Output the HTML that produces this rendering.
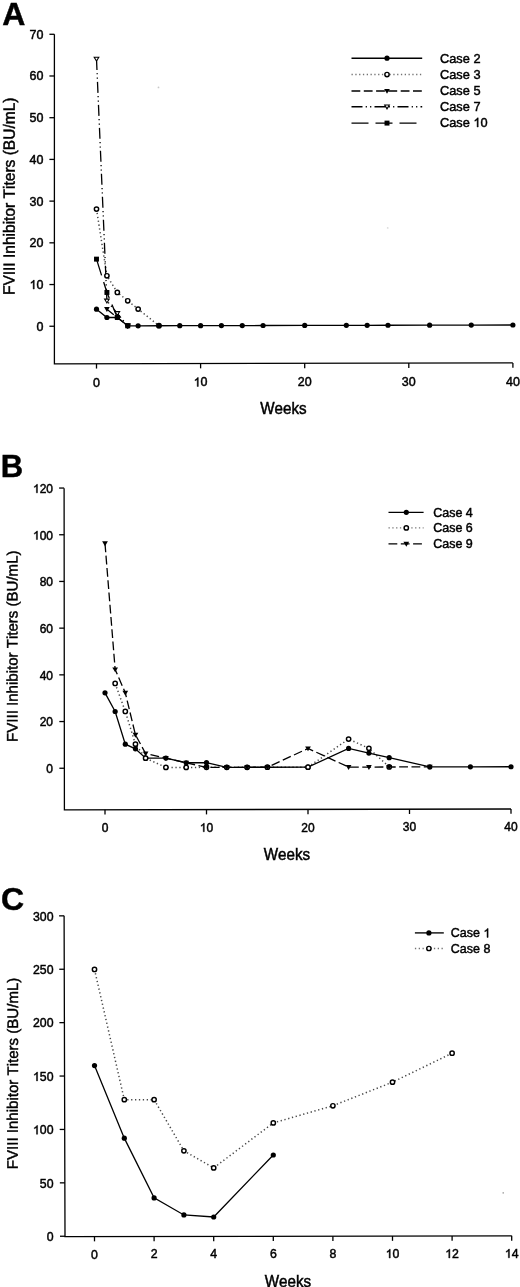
<!DOCTYPE html>
<html><head><meta charset="utf-8"><title>FVIII inhibitor titers</title>
<style>
html,body{margin:0;padding:0;background:#fff;}
body{width:520px;height:1287px;overflow:hidden;}
svg{display:block;filter:blur(0.42px);}
text{font-family:"Liberation Sans", sans-serif;fill:#000;stroke:#000;stroke-width:0.45px;font-kerning:none;}
tspan.h{fill:none;stroke:none;}
</style></head>
<body>
<svg width="520" height="1287" viewBox="0 0 520 1287">
<rect width="520" height="1287" fill="#fff"/>
<path d="M54.4 34.2L54.4 363.85L512.85 362.9" fill="none" stroke="#000" stroke-width="1.3" stroke-linejoin="miter"/>
<path d="M49.4 326.25H54.4" stroke="#000" stroke-width="1.3"/>
<g transform="translate(36.55 330.75) scale(1 1.04)"><text x="0" y="0" font-size="12.5">0</text></g>
<path d="M49.4 284.54H54.4" stroke="#000" stroke-width="1.3"/>
<g transform="translate(29.6 289.04) scale(1 1.04)"><text x="0" y="0" font-size="12.5"><tspan class="h">1</tspan>0</text><path d="M4.66 0L3.56 0L3.56 -6.7Q3.16 -6.34 2.51 -5.97Q1.86 -5.61 1.35 -5.43L1.35 -6.45Q2.27 -6.86 2.96 -7.46Q3.65 -8.04 3.94 -8.6L4.66 -8.6Z" fill="#000" stroke="#000" stroke-width="0.45"/></g>
<path d="M49.4 242.83H54.4" stroke="#000" stroke-width="1.3"/>
<g transform="translate(29.6 247.33) scale(1 1.04)"><text x="0" y="0" font-size="12.5">20</text></g>
<path d="M49.4 201.12H54.4" stroke="#000" stroke-width="1.3"/>
<g transform="translate(29.6 205.62) scale(1 1.04)"><text x="0" y="0" font-size="12.5">30</text></g>
<path d="M49.4 159.41H54.4" stroke="#000" stroke-width="1.3"/>
<g transform="translate(29.6 163.91) scale(1 1.04)"><text x="0" y="0" font-size="12.5">40</text></g>
<path d="M49.4 117.7H54.4" stroke="#000" stroke-width="1.3"/>
<g transform="translate(29.6 122.2) scale(1 1.04)"><text x="0" y="0" font-size="12.5">50</text></g>
<path d="M49.4 75.99H54.4" stroke="#000" stroke-width="1.3"/>
<g transform="translate(29.6 80.49) scale(1 1.04)"><text x="0" y="0" font-size="12.5">60</text></g>
<path d="M49.4 34.28H54.4" stroke="#000" stroke-width="1.3"/>
<g transform="translate(29.6 38.78) scale(1 1.04)"><text x="0" y="0" font-size="12.5">70</text></g>
<path d="M96.5 363.76V368.56" stroke="#000" stroke-width="1.3"/>
<g transform="translate(93.02 386.69) scale(1 1.04)"><text x="0" y="0" font-size="12.5">0</text></g>
<path d="M200.6 363.55V368.35" stroke="#000" stroke-width="1.3"/>
<g transform="translate(193.65 386.47) scale(1 1.04)"><text x="0" y="0" font-size="12.5"><tspan class="h">1</tspan>0</text><path d="M4.66 0L3.56 0L3.56 -6.7Q3.16 -6.34 2.51 -5.97Q1.86 -5.61 1.35 -5.43L1.35 -6.45Q2.27 -6.86 2.96 -7.46Q3.65 -8.04 3.94 -8.6L4.66 -8.6Z" fill="#000" stroke="#000" stroke-width="0.45"/></g>
<path d="M304.7 363.33V368.13" stroke="#000" stroke-width="1.3"/>
<g transform="translate(297.75 386.26) scale(1 1.04)"><text x="0" y="0" font-size="12.5">20</text></g>
<path d="M408.8 363.12V367.92" stroke="#000" stroke-width="1.3"/>
<g transform="translate(401.85 386.04) scale(1 1.04)"><text x="0" y="0" font-size="12.5">30</text></g>
<path d="M512.9 362.9V367.7" stroke="#000" stroke-width="1.3"/>
<g transform="translate(505.95 385.82) scale(1 1.04)"><text x="0" y="0" font-size="12.5">40</text></g>
<g transform="translate(260.17 414.3) scale(1 1.04)"><text x="0" y="0" font-size="15.2">Weeks</text></g>
<text transform="translate(14.7 196.3) rotate(-89.95)" text-anchor="middle" font-size="16.3" textLength="197.6" lengthAdjust="spacingAndGlyphs">FVIII Inhibitor Titers (BU/mL)</text>
<text x="2.2" y="25.3" font-size="32" font-weight="bold">A</text>
<polyline points="96.5,209.07 106.91,275.79 117.32,292.45 127.73,300.77 138.14,309.09 158.96,325.73" fill="none" stroke="#000" stroke-width="1.3" stroke-dasharray="1.3 2.6" stroke-opacity="0.72" style="stroke-width:1.5px"/>
<polyline points="96.5,58.92 106.91,300.82 117.32,313.31 127.73,325.8" fill="none" stroke="#000" stroke-width="1.3" stroke-dasharray="11 3.2 1.2 3.2 1.2 3.2"/>
<polyline points="96.5,259.13 106.91,292.47 117.32,317.48 127.73,325.8" fill="none" stroke="#000" stroke-width="1.3" stroke-dasharray="17 7"/>
<polyline points="106.91,309.16 117.32,317.48 127.73,325.8" fill="none" stroke="#000" stroke-width="1.3" stroke-dasharray="8.8 3.5"/>
<polyline points="96.5,309.18 106.91,317.5 117.32,317.48 127.73,325.8 138.14,325.78 158.96,325.73 179.78,325.69 200.6,325.65 221.42,325.6 242.24,325.56 263.06,325.52 304.7,325.43 346.34,325.35 367.16,325.3 387.98,325.26 429.62,325.17 471.26,325.09 512.9,325" fill="none" stroke="#000" stroke-width="1.3" />
<circle cx="96.5" cy="209.07" r="2.15" fill="#fff" stroke="#000" stroke-width="1.45"/>
<circle cx="106.91" cy="275.79" r="2.15" fill="#fff" stroke="#000" stroke-width="1.45"/>
<circle cx="117.32" cy="292.45" r="2.15" fill="#fff" stroke="#000" stroke-width="1.45"/>
<circle cx="127.73" cy="300.77" r="2.15" fill="#fff" stroke="#000" stroke-width="1.45"/>
<circle cx="138.14" cy="309.09" r="2.15" fill="#fff" stroke="#000" stroke-width="1.45"/>
<circle cx="158.96" cy="325.73" r="2.15" fill="#fff" stroke="#000" stroke-width="1.45"/>
<polygon points="94.19,57.21 98.81,57.21 96.5,61.05" fill="#fff" stroke="#000" stroke-width="1.1" stroke-linejoin="miter"/>
<polygon points="104.6,299.1 109.22,299.1 106.91,302.94" fill="#fff" stroke="#000" stroke-width="1.1" stroke-linejoin="miter"/>
<polygon points="115.01,311.59 119.63,311.59 117.32,315.43" fill="#fff" stroke="#000" stroke-width="1.1" stroke-linejoin="miter"/>
<polygon points="125.42,324.09 130.04,324.09 127.73,327.93" fill="#fff" stroke="#000" stroke-width="1.1" stroke-linejoin="miter"/>
<rect x="94.03" y="256.66" width="4.94" height="4.94" fill="#000"/>
<rect x="104.44" y="290" width="4.94" height="4.94" fill="#000"/>
<rect x="114.85" y="315.01" width="4.94" height="4.94" fill="#000"/>
<rect x="125.26" y="323.33" width="4.94" height="4.94" fill="#000"/>
<polygon points="104.05,307.08 109.77,307.08 106.91,312.02" fill="#000"/>
<polygon points="114.46,315.4 120.18,315.4 117.32,320.34" fill="#000"/>
<polygon points="124.87,323.72 130.59,323.72 127.73,328.66" fill="#000"/>
<circle cx="96.5" cy="309.18" r="2.6" fill="#000"/>
<circle cx="106.91" cy="317.5" r="2.6" fill="#000"/>
<circle cx="117.32" cy="317.48" r="2.6" fill="#000"/>
<circle cx="127.73" cy="325.8" r="2.6" fill="#000"/>
<circle cx="138.14" cy="325.78" r="2.6" fill="#000"/>
<circle cx="158.96" cy="325.73" r="2.6" fill="#000"/>
<circle cx="179.78" cy="325.69" r="2.6" fill="#000"/>
<circle cx="200.6" cy="325.65" r="2.6" fill="#000"/>
<circle cx="221.42" cy="325.6" r="2.6" fill="#000"/>
<circle cx="242.24" cy="325.56" r="2.6" fill="#000"/>
<circle cx="263.06" cy="325.52" r="2.6" fill="#000"/>
<circle cx="304.7" cy="325.43" r="2.6" fill="#000"/>
<circle cx="346.34" cy="325.35" r="2.6" fill="#000"/>
<circle cx="367.16" cy="325.3" r="2.6" fill="#000"/>
<circle cx="387.98" cy="325.26" r="2.6" fill="#000"/>
<circle cx="429.62" cy="325.17" r="2.6" fill="#000"/>
<circle cx="471.26" cy="325.09" r="2.6" fill="#000"/>
<circle cx="512.9" cy="325" r="2.6" fill="#000"/>
<path d="M351.5 58.2H422.2" stroke="#000" stroke-width="1.35" />
<circle cx="387" cy="58.2" r="2.6" fill="#000"/>
<g transform="translate(440 62.6) scale(1 1.04)"><text x="0" y="0" font-size="12.8">Case 2</text></g>
<path d="M351.5 74.5H422.2" stroke="#000" stroke-width="1.35" stroke-dasharray="1.3 2.5" stroke-opacity="0.55" style="stroke-width:1.3px"/>
<circle cx="387" cy="74.5" r="2.15" fill="#fff" stroke="#000" stroke-width="1.45"/>
<g transform="translate(440 78.6) scale(1 1.04)"><text x="0" y="0" font-size="12.8">Case 3</text></g>
<path d="M351.5 91H422.2" stroke="#000" stroke-width="1.35" stroke-dasharray="8.8 3.5"/>
<polygon points="384.14,88.93 389.86,88.93 387,93.87" fill="#000"/>
<g transform="translate(440 95.2) scale(1 1.04)"><text x="0" y="0" font-size="12.8">Case 5</text></g>
<path d="M351.5 106.7H422.2" stroke="#000" stroke-width="1.35" stroke-dasharray="11 3.2 1.2 3.2 1.2 3.2"/>
<polygon points="384.69,104.99 389.31,104.99 387,108.83" fill="#fff" stroke="#000" stroke-width="1.1" stroke-linejoin="miter"/>
<g transform="translate(440 110.9) scale(1 1.04)"><text x="0" y="0" font-size="12.8">Case 7</text></g>
<path d="M351.5 123.1H422.2" stroke="#000" stroke-width="1.35" stroke-dasharray="17 7"/>
<rect x="384.53" y="120.63" width="4.94" height="4.94" fill="#000"/>
<g transform="translate(440 127) scale(1 1.04)"><text x="0" y="0" font-size="12.8">Case <tspan class="h">1</tspan>0</text><path d="M38.21 0L37.09 0L37.09 -6.86Q36.68 -6.49 36.01 -6.12Q35.34 -5.74 34.82 -5.56L34.82 -6.6Q35.77 -7.03 36.47 -7.64Q37.18 -8.23 37.47 -8.81L38.21 -8.81Z" fill="#000" stroke="#000" stroke-width="0.45"/></g>
<path d="M64.1 488.25L64.4 809.9L511 809" fill="none" stroke="#000" stroke-width="1.3" stroke-linejoin="miter"/>
<path d="M59.36 768.25H64.36" stroke="#000" stroke-width="1.3"/>
<g transform="translate(46.33 773.07) scale(1 1.04)"><text x="0" y="0" font-size="12">0</text></g>
<path d="M59.32 721.55H64.32" stroke="#000" stroke-width="1.3"/>
<g transform="translate(39.65 726.37) scale(1 1.04)"><text x="0" y="0" font-size="12">20</text></g>
<path d="M59.27 674.85H64.27" stroke="#000" stroke-width="1.3"/>
<g transform="translate(39.65 679.67) scale(1 1.04)"><text x="0" y="0" font-size="12">40</text></g>
<path d="M59.23 628.15H64.23" stroke="#000" stroke-width="1.3"/>
<g transform="translate(39.65 632.97) scale(1 1.04)"><text x="0" y="0" font-size="12">60</text></g>
<path d="M59.19 581.45H64.19" stroke="#000" stroke-width="1.3"/>
<g transform="translate(39.65 586.27) scale(1 1.04)"><text x="0" y="0" font-size="12">80</text></g>
<path d="M59.14 534.75H64.14" stroke="#000" stroke-width="1.3"/>
<g transform="translate(32.98 539.57) scale(1 1.04)"><text x="0" y="0" font-size="12"><tspan class="h">1</tspan>00</text><path d="M4.48 0L3.42 0L3.42 -6.43Q3.04 -6.08 2.41 -5.73Q1.79 -5.38 1.3 -5.21L1.3 -6.19Q2.18 -6.59 2.84 -7.16Q3.5 -7.72 3.78 -8.26L4.48 -8.26Z" fill="#000" stroke="#000" stroke-width="0.45"/></g>
<path d="M59.1 488.05H64.1" stroke="#000" stroke-width="1.3"/>
<g transform="translate(32.98 492.87) scale(1 1.04)"><text x="0" y="0" font-size="12"><tspan class="h">1</tspan>20</text><path d="M4.48 0L3.42 0L3.42 -6.43Q3.04 -6.08 2.41 -5.73Q1.79 -5.38 1.3 -5.21L1.3 -6.19Q2.18 -6.59 2.84 -7.16Q3.5 -7.72 3.78 -8.26L4.48 -8.26Z" fill="#000" stroke="#000" stroke-width="0.45"/></g>
<path d="M105 809.82V814.62" stroke="#000" stroke-width="1.3"/>
<g transform="translate(101.66 831.97) scale(1 1.04)"><text x="0" y="0" font-size="12">0</text></g>
<path d="M206.5 809.61V814.41" stroke="#000" stroke-width="1.3"/>
<g transform="translate(199.83 831.76) scale(1 1.04)"><text x="0" y="0" font-size="12"><tspan class="h">1</tspan>0</text><path d="M4.48 0L3.42 0L3.42 -6.43Q3.04 -6.08 2.41 -5.73Q1.79 -5.38 1.3 -5.21L1.3 -6.19Q2.18 -6.59 2.84 -7.16Q3.5 -7.72 3.78 -8.26L4.48 -8.26Z" fill="#000" stroke="#000" stroke-width="0.45"/></g>
<path d="M308 809.41V814.21" stroke="#000" stroke-width="1.3"/>
<g transform="translate(301.33 831.56) scale(1 1.04)"><text x="0" y="0" font-size="12">20</text></g>
<path d="M409.5 809.2V814" stroke="#000" stroke-width="1.3"/>
<g transform="translate(402.83 831.35) scale(1 1.04)"><text x="0" y="0" font-size="12">30</text></g>
<path d="M511 809V813.8" stroke="#000" stroke-width="1.3"/>
<g transform="translate(504.33 831.15) scale(1 1.04)"><text x="0" y="0" font-size="12">40</text></g>
<g transform="translate(263.77 859.7) scale(1 1.04)"><text x="0" y="0" font-size="15.2">Weeks</text></g>
<text transform="translate(17.55 646.2) rotate(-89.95)" text-anchor="middle" font-size="15.2" textLength="191.5" lengthAdjust="spacingAndGlyphs">FVIII Inhibitor Titers (BU/mL)</text>
<text x="0.8" y="477.4" font-size="31" font-weight="bold">B</text>
<polyline points="105,692.85 115.15,711.51 125.3,744.18 135.45,748.83 145.6,758.15 165.9,758.1 186.2,762.73 206.5,762.69 226.8,767.32 247.1,767.28 267.4,767.24 308,767.16 348.6,748.4 368.9,753.03 389.2,757.65 429.8,766.91 470.4,766.83 511,766.75" fill="none" stroke="#000" stroke-width="1.3" />
<polyline points="115.15,683.49 125.3,711.49 135.45,744.16 145.6,758.15 165.9,767.44 186.2,767.4 206.5,767.36 226.8,767.32 247.1,767.28 267.4,767.24 308,767.16 348.6,739.06 368.9,748.36 389.2,766.99" fill="none" stroke="#000" stroke-width="1.3" stroke-dasharray="1.3 2.6" stroke-opacity="0.72" style="stroke-width:1.5px"/>
<polyline points="105,543.41 115.15,669.48 125.3,692.81 135.45,734.82 145.6,753.48 165.9,758.1 186.2,762.73 206.5,767.36 226.8,767.32 247.1,767.28 267.4,767.24 308,748.48 348.6,767.08 368.9,767.04 389.2,766.99 429.8,766.91" fill="none" stroke="#000" stroke-width="1.3" stroke-dasharray="8.8 3.5"/>
<circle cx="105" cy="692.85" r="2.6" fill="#000"/>
<circle cx="115.15" cy="711.51" r="2.6" fill="#000"/>
<circle cx="125.3" cy="744.18" r="2.6" fill="#000"/>
<circle cx="135.45" cy="748.83" r="2.6" fill="#000"/>
<circle cx="145.6" cy="758.15" r="2.6" fill="#000"/>
<circle cx="165.9" cy="758.1" r="2.6" fill="#000"/>
<circle cx="186.2" cy="762.73" r="2.6" fill="#000"/>
<circle cx="206.5" cy="762.69" r="2.6" fill="#000"/>
<circle cx="226.8" cy="767.32" r="2.6" fill="#000"/>
<circle cx="247.1" cy="767.28" r="2.6" fill="#000"/>
<circle cx="267.4" cy="767.24" r="2.6" fill="#000"/>
<circle cx="308" cy="767.16" r="2.6" fill="#000"/>
<circle cx="348.6" cy="748.4" r="2.6" fill="#000"/>
<circle cx="368.9" cy="753.03" r="2.6" fill="#000"/>
<circle cx="389.2" cy="757.65" r="2.6" fill="#000"/>
<circle cx="429.8" cy="766.91" r="2.6" fill="#000"/>
<circle cx="470.4" cy="766.83" r="2.6" fill="#000"/>
<circle cx="511" cy="766.75" r="2.6" fill="#000"/>
<circle cx="115.15" cy="683.49" r="2.15" fill="#fff" stroke="#000" stroke-width="1.45"/>
<circle cx="125.3" cy="711.49" r="2.15" fill="#fff" stroke="#000" stroke-width="1.45"/>
<circle cx="135.45" cy="744.16" r="2.15" fill="#fff" stroke="#000" stroke-width="1.45"/>
<circle cx="145.6" cy="758.15" r="2.15" fill="#fff" stroke="#000" stroke-width="1.45"/>
<circle cx="165.9" cy="767.44" r="2.15" fill="#fff" stroke="#000" stroke-width="1.45"/>
<circle cx="186.2" cy="767.4" r="2.15" fill="#fff" stroke="#000" stroke-width="1.45"/>
<circle cx="206.5" cy="767.36" r="2.15" fill="#fff" stroke="#000" stroke-width="1.45"/>
<circle cx="226.8" cy="767.32" r="2.15" fill="#fff" stroke="#000" stroke-width="1.45"/>
<circle cx="247.1" cy="767.28" r="2.15" fill="#fff" stroke="#000" stroke-width="1.45"/>
<circle cx="267.4" cy="767.24" r="2.15" fill="#fff" stroke="#000" stroke-width="1.45"/>
<circle cx="308" cy="767.16" r="2.15" fill="#fff" stroke="#000" stroke-width="1.45"/>
<circle cx="348.6" cy="739.06" r="2.15" fill="#fff" stroke="#000" stroke-width="1.45"/>
<circle cx="368.9" cy="748.36" r="2.15" fill="#fff" stroke="#000" stroke-width="1.45"/>
<circle cx="389.2" cy="766.99" r="2.15" fill="#fff" stroke="#000" stroke-width="1.45"/>
<polygon points="102.14,541.33 107.86,541.33 105,546.27" fill="#000"/>
<polygon points="112.29,667.4 118.01,667.4 115.15,672.34" fill="#000"/>
<polygon points="122.44,690.73 128.16,690.73 125.3,695.67" fill="#000"/>
<polygon points="132.59,732.74 138.31,732.74 135.45,737.68" fill="#000"/>
<polygon points="142.74,751.4 148.46,751.4 145.6,756.34" fill="#000"/>
<polygon points="163.04,756.03 168.76,756.03 165.9,760.97" fill="#000"/>
<polygon points="183.34,760.66 189.06,760.66 186.2,765.6" fill="#000"/>
<polygon points="203.64,765.29 209.36,765.29 206.5,770.23" fill="#000"/>
<polygon points="223.94,765.25 229.66,765.25 226.8,770.19" fill="#000"/>
<polygon points="244.24,765.21 249.96,765.21 247.1,770.15" fill="#000"/>
<polygon points="264.54,765.17 270.26,765.17 267.4,770.11" fill="#000"/>
<polygon points="305.14,746.4 310.86,746.4 308,751.34" fill="#000"/>
<polygon points="345.74,765 351.46,765 348.6,769.94" fill="#000"/>
<polygon points="366.04,764.96 371.76,764.96 368.9,769.9" fill="#000"/>
<polygon points="386.34,764.92 392.06,764.92 389.2,769.86" fill="#000"/>
<polygon points="426.94,764.84 432.66,764.84 429.8,769.78" fill="#000"/>
<path d="M388.5 512.35H423.6" stroke="#000" stroke-width="1.35" />
<circle cx="406.3" cy="512.35" r="2.6" fill="#000"/>
<g transform="translate(433.2 516.85) scale(1 1.04)"><text x="0" y="0" font-size="12.5">Case 4</text></g>
<path d="M388.5 527.9H423.6" stroke="#000" stroke-width="1.35" stroke-dasharray="1.3 2.5" stroke-opacity="0.55" style="stroke-width:1.3px"/>
<circle cx="406.3" cy="527.9" r="2.15" fill="#fff" stroke="#000" stroke-width="1.45"/>
<g transform="translate(433.2 532.4) scale(1 1.04)"><text x="0" y="0" font-size="12.5">Case 6</text></g>
<path d="M388.5 543.8H423.6" stroke="#000" stroke-width="1.35" stroke-dasharray="8.8 3.5"/>
<polygon points="403.44,541.73 409.16,541.73 406.3,546.67" fill="#000"/>
<g transform="translate(433.2 548.3) scale(1 1.04)"><text x="0" y="0" font-size="12.5">Case 9</text></g>
<path d="M64.1 915.75L65 1236.6L511.75 1235.85" fill="none" stroke="#000" stroke-width="1.3" stroke-linejoin="miter"/>
<path d="M60 1236.25H65" stroke="#000" stroke-width="1.3"/>
<g transform="translate(46.66 1241.08) scale(1 1.04)"><text x="0" y="0" font-size="12.3">0</text></g>
<path d="M59.85 1182.85H64.85" stroke="#000" stroke-width="1.3"/>
<g transform="translate(39.82 1187.68) scale(1 1.04)"><text x="0" y="0" font-size="12.3">50</text></g>
<path d="M59.7 1129.45H64.7" stroke="#000" stroke-width="1.3"/>
<g transform="translate(32.98 1134.28) scale(1 1.04)"><text x="0" y="0" font-size="12.3"><tspan class="h">1</tspan>00</text><path d="M4.59 0L3.51 0L3.51 -6.6Q3.11 -6.24 2.47 -5.88Q1.83 -5.52 1.33 -5.34L1.33 -6.34Q2.24 -6.75 2.92 -7.34Q3.59 -7.91 3.87 -8.46L4.59 -8.46Z" fill="#000" stroke="#000" stroke-width="0.45"/></g>
<path d="M59.55 1076.05H64.55" stroke="#000" stroke-width="1.3"/>
<g transform="translate(32.98 1080.88) scale(1 1.04)"><text x="0" y="0" font-size="12.3"><tspan class="h">1</tspan>50</text><path d="M4.59 0L3.51 0L3.51 -6.6Q3.11 -6.24 2.47 -5.88Q1.83 -5.52 1.33 -5.34L1.33 -6.34Q2.24 -6.75 2.92 -7.34Q3.59 -7.91 3.87 -8.46L4.59 -8.46Z" fill="#000" stroke="#000" stroke-width="0.45"/></g>
<path d="M59.4 1022.65H64.4" stroke="#000" stroke-width="1.3"/>
<g transform="translate(32.98 1027.48) scale(1 1.04)"><text x="0" y="0" font-size="12.3">200</text></g>
<path d="M59.25 969.25H64.25" stroke="#000" stroke-width="1.3"/>
<g transform="translate(32.98 974.08) scale(1 1.04)"><text x="0" y="0" font-size="12.3">250</text></g>
<path d="M59.1 915.85H64.1" stroke="#000" stroke-width="1.3"/>
<g transform="translate(32.98 920.68) scale(1 1.04)"><text x="0" y="0" font-size="12.3">300</text></g>
<path d="M94.5 1236.55V1241.35" stroke="#000" stroke-width="1.3"/>
<g transform="translate(91.08 1258.53) scale(1 1.04)"><text x="0" y="0" font-size="12.3">0</text></g>
<path d="M154.1 1236.45V1241.25" stroke="#000" stroke-width="1.3"/>
<g transform="translate(150.68 1258.43) scale(1 1.04)"><text x="0" y="0" font-size="12.3">2</text></g>
<path d="M213.7 1236.35V1241.15" stroke="#000" stroke-width="1.3"/>
<g transform="translate(210.28 1258.33) scale(1 1.04)"><text x="0" y="0" font-size="12.3">4</text></g>
<path d="M273.3 1236.25V1241.05" stroke="#000" stroke-width="1.3"/>
<g transform="translate(269.88 1258.23) scale(1 1.04)"><text x="0" y="0" font-size="12.3">6</text></g>
<path d="M332.9 1236.15V1240.95" stroke="#000" stroke-width="1.3"/>
<g transform="translate(329.48 1258.13) scale(1 1.04)"><text x="0" y="0" font-size="12.3">8</text></g>
<path d="M392.5 1236.05V1240.85" stroke="#000" stroke-width="1.3"/>
<g transform="translate(385.66 1258.03) scale(1 1.04)"><text x="0" y="0" font-size="12.3"><tspan class="h">1</tspan>0</text><path d="M4.59 0L3.51 0L3.51 -6.6Q3.11 -6.24 2.47 -5.88Q1.83 -5.52 1.33 -5.34L1.33 -6.34Q2.24 -6.75 2.92 -7.34Q3.59 -7.91 3.87 -8.46L4.59 -8.46Z" fill="#000" stroke="#000" stroke-width="0.45"/></g>
<path d="M452.1 1235.95V1240.75" stroke="#000" stroke-width="1.3"/>
<g transform="translate(445.26 1257.93) scale(1 1.04)"><text x="0" y="0" font-size="12.3"><tspan class="h">1</tspan>2</text><path d="M4.59 0L3.51 0L3.51 -6.6Q3.11 -6.24 2.47 -5.88Q1.83 -5.52 1.33 -5.34L1.33 -6.34Q2.24 -6.75 2.92 -7.34Q3.59 -7.91 3.87 -8.46L4.59 -8.46Z" fill="#000" stroke="#000" stroke-width="0.45"/></g>
<path d="M511.7 1235.85V1240.65" stroke="#000" stroke-width="1.3"/>
<g transform="translate(504.86 1257.83) scale(1 1.04)"><text x="0" y="0" font-size="12.3"><tspan class="h">1</tspan>4</text><path d="M4.59 0L3.51 0L3.51 -6.6Q3.11 -6.24 2.47 -5.88Q1.83 -5.52 1.33 -5.34L1.33 -6.34Q2.24 -6.75 2.92 -7.34Q3.59 -7.91 3.87 -8.46L4.59 -8.46Z" fill="#000" stroke="#000" stroke-width="0.45"/></g>
<g transform="translate(264.67 1287) scale(1 1.04)"><text x="0" y="0" font-size="15.2">Weeks</text></g>
<text transform="translate(17.9 1073.4) rotate(-89.95)" text-anchor="middle" font-size="15.2" textLength="191.5" lengthAdjust="spacingAndGlyphs">FVIII Inhibitor Titers (BU/mL)</text>
<text x="1" y="910.3" font-size="32" font-weight="bold">C</text>
<polyline points="94.5,969.45 124.3,1099.69 154.1,1099.64 183.9,1150.86 213.7,1167.9 273.3,1122.94 332.9,1105.75 392.5,1082.16 452.1,1053.22" fill="none" stroke="#000" stroke-width="1.3" stroke-dasharray="1.3 2.6" stroke-opacity="0.72" style="stroke-width:1.5px"/>
<polyline points="94.5,1065.57 124.3,1138.14 154.1,1197.9 183.9,1214.94 213.7,1217.02 273.3,1154.98" fill="none" stroke="#000" stroke-width="1.3" />
<circle cx="94.5" cy="969.45" r="2.15" fill="#fff" stroke="#000" stroke-width="1.45"/>
<circle cx="124.3" cy="1099.69" r="2.15" fill="#fff" stroke="#000" stroke-width="1.45"/>
<circle cx="154.1" cy="1099.64" r="2.15" fill="#fff" stroke="#000" stroke-width="1.45"/>
<circle cx="183.9" cy="1150.86" r="2.15" fill="#fff" stroke="#000" stroke-width="1.45"/>
<circle cx="213.7" cy="1167.9" r="2.15" fill="#fff" stroke="#000" stroke-width="1.45"/>
<circle cx="273.3" cy="1122.94" r="2.15" fill="#fff" stroke="#000" stroke-width="1.45"/>
<circle cx="332.9" cy="1105.75" r="2.15" fill="#fff" stroke="#000" stroke-width="1.45"/>
<circle cx="392.5" cy="1082.16" r="2.15" fill="#fff" stroke="#000" stroke-width="1.45"/>
<circle cx="452.1" cy="1053.22" r="2.15" fill="#fff" stroke="#000" stroke-width="1.45"/>
<circle cx="94.5" cy="1065.57" r="2.6" fill="#000"/>
<circle cx="124.3" cy="1138.14" r="2.6" fill="#000"/>
<circle cx="154.1" cy="1197.9" r="2.6" fill="#000"/>
<circle cx="183.9" cy="1214.94" r="2.6" fill="#000"/>
<circle cx="213.7" cy="1217.02" r="2.6" fill="#000"/>
<circle cx="273.3" cy="1154.98" r="2.6" fill="#000"/>
<path d="M414.9 932.9H443.8" stroke="#000" stroke-width="1.35" />
<circle cx="428.9" cy="932.9" r="2.6" fill="#000"/>
<g transform="translate(450.8 937.4) scale(1 1.04)"><text x="0" y="0" font-size="12.5">Case <tspan class="h">1</tspan></text><path d="M37.32 0L36.22 0L36.22 -6.7Q35.82 -6.34 35.17 -5.97Q34.52 -5.61 34 -5.43L34 -6.45Q34.93 -6.86 35.62 -7.46Q36.3 -8.04 36.59 -8.6L37.32 -8.6Z" fill="#000" stroke="#000" stroke-width="0.45"/></g>
<path d="M414.9 948.5H443.8" stroke="#000" stroke-width="1.35" stroke-dasharray="1.3 2.5" stroke-opacity="0.55" style="stroke-width:1.3px"/>
<circle cx="428.9" cy="948.5" r="2.15" fill="#fff" stroke="#000" stroke-width="1.45"/>
<g transform="translate(450.8 953) scale(1 1.04)"><text x="0" y="0" font-size="12.5">Case 8</text></g>
<circle cx="158.5" cy="87.4" r="0.9" fill="#c8c8c8"/>
<circle cx="387.7" cy="227.9" r="0.9" fill="#dcdcdc"/>
<circle cx="503.2" cy="1192.9" r="0.8" fill="#a0a0a0"/>
</svg>
</body></html>
